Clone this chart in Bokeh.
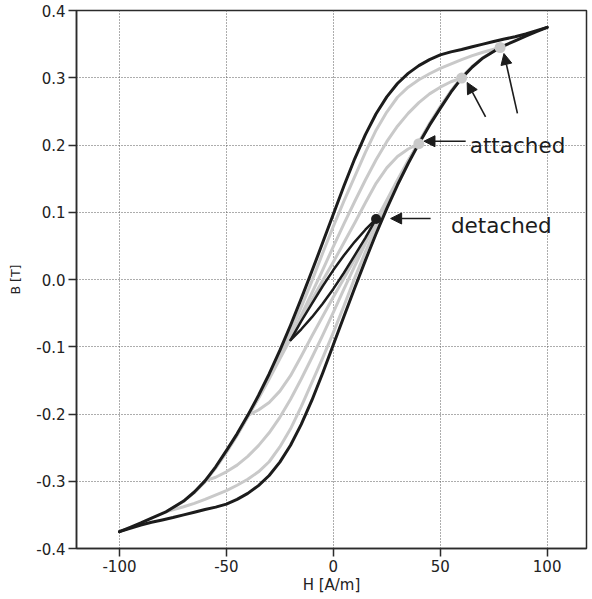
from bokeh.plotting import figure
from bokeh.models import Range1d, FixedTicker, PrintfTickFormatter, Arrow, NormalHead
from bokeh.core.properties import value
from bokeh.embed import file_html
from bokeh.resources import INLINE

# ---------------- data ----------------
# major loop, ascending (lower) branch
major_asc_H = [-100, -95, -90, -85, -80, -75, -70, -65, -60, -55, -50, -45, -40, -35, -30,
               -25, -20, -15, -10, -5, 0, 5, 10, 15, 20, 25, 30, 35, 40, 45, 50, 55, 60,
               65, 70, 78, 85, 90, 95, 100]
major_asc_B = [-0.375, -0.370, -0.365, -0.361, -0.3575, -0.354, -0.350, -0.346, -0.342, -0.3385,
               -0.334, -0.327, -0.318, -0.3065, -0.2915, -0.2715, -0.2465, -0.2155, -0.1795, -0.1395,
               -0.097, -0.0545, -0.0125, 0.0285, 0.068, 0.1055, 0.1405, 0.1725, 0.202, 0.2295,
               0.2545, 0.2785, 0.2995, 0.316, 0.3295, 0.345, 0.355, 0.362, 0.3685, 0.375]
# major loop, descending (upper) branch
major_desc_H = [100, 95, 90, 85, 80, 75, 70, 65, 60, 55, 50, 45, 40, 35, 30, 25, 20, 15, 10,
                5, 0, -5, -10, -15, -20, -25, -30, -35, -40, -45, -50, -55, -60, -65, -70,
                -78, -85, -90, -95, -100]
major_desc_B = [0.375, 0.370, 0.365, 0.361, 0.3575, 0.354, 0.350, 0.346, 0.342, 0.3385,
                0.334, 0.327, 0.318, 0.3065, 0.2915, 0.2715, 0.2465, 0.2155, 0.1795, 0.1395,
                0.097, 0.0545, 0.0125, -0.0285, -0.068, -0.1055, -0.1405, -0.1725, -0.202, -0.2295,
                -0.2545, -0.2785, -0.2995, -0.316, -0.3295, -0.345, -0.355, -0.362, -0.3685, -0.375]

# attached minor loop, tip at H = 78
loop78_desc_H = [78, 70, 65, 60, 50, 45, 40, 35, 30, 25, 20, 15, 10, 5, 0, -5, -10, -15, -20,
                 -25, -30, -35, -40, -45, -50, -55, -60, -65, -70, -78]
loop78_desc_B = [0.345, 0.338, 0.333, 0.327, 0.314, 0.306, 0.297, 0.286, 0.271, 0.249, 0.222,
                 0.189, 0.153, 0.117, 0.079, 0.039, -0.002, -0.041, -0.077, -0.111, -0.144,
                 -0.175, -0.204, -0.232, -0.257, -0.280, -0.301, -0.317, -0.330, -0.345]
loop78_asc_H = [-78, -70, -65, -60, -50, -45, -40, -35, -30, -25, -20, -15, -10, -5, 0, 5, 10,
                15, 20, 25, 30, 35, 40, 45, 50, 55, 60, 65, 70, 78]
loop78_asc_B = [-0.345, -0.338, -0.333, -0.327, -0.314, -0.306, -0.297, -0.286, -0.271, -0.249,
                -0.222, -0.189, -0.153, -0.117, -0.079, -0.039, 0.002, 0.041, 0.077, 0.111,
                0.144, 0.175, 0.204, 0.232, 0.257, 0.280, 0.301, 0.317, 0.330, 0.345]

# attached minor loop, tip at H = 60
loop60_desc_H = [60, 55, 50, 45, 40, 35, 30, 25, 20, 15, 10, 5, 0, -5, -10, -15, -20, -25,
                 -30, -35, -40, -45, -50, -55, -60]
loop60_desc_B = [0.2995, 0.294, 0.286, 0.276, 0.263, 0.247, 0.228, 0.205, 0.178, 0.148, 0.116,
                 0.083, 0.049, 0.014, -0.020, -0.053, -0.085, -0.115, -0.146, -0.176, -0.204,
                 -0.231, -0.256, -0.280, -0.2995]
loop60_asc_H = [-60, -55, -50, -45, -40, -35, -30, -25, -20, -15, -10, -5, 0, 5, 10, 15, 20,
                25, 30, 35, 40, 45, 50, 55, 60]
loop60_asc_B = [-0.2995, -0.294, -0.286, -0.276, -0.263, -0.247, -0.228, -0.205, -0.178, -0.148,
                -0.116, -0.083, -0.049, -0.014, 0.020, 0.053, 0.085, 0.115, 0.146, 0.176,
                0.204, 0.231, 0.256, 0.280, 0.2995]

# attached minor loop, tip at H = 40
loop40_desc_H = [40, 35, 30, 25, 20, 15, 10, 5, 0, -5, -10, -15, -20, -25, -30, -35, -40]
loop40_desc_B = [0.202, 0.194, 0.183, 0.166, 0.143, 0.114, 0.084, 0.055, 0.026, -0.002,
                 -0.030, -0.059, -0.088, -0.118, -0.148, -0.177, -0.202]
loop40_asc_H = [-40, -35, -30, -25, -20, -15, -10, -5, 0, 5, 10, 15, 20, 25, 30, 35, 40]
loop40_asc_B = [-0.202, -0.194, -0.183, -0.166, -0.143, -0.114, -0.084, -0.055, -0.026, 0.002,
                0.030, 0.059, 0.088, 0.118, 0.148, 0.177, 0.202]

# detached minor loop, tip at H = 20
loop20_desc_H = [20, 15, 10, 5, 0, -5, -10, -15, -20]
loop20_desc_B = [0.090, 0.074, 0.056, 0.036, 0.014, -0.010, -0.036, -0.062, -0.090]
loop20_asc_H = [-20, -15, -10, -5, 0, 5, 10, 15, 20]
loop20_asc_B = [-0.090, -0.074, -0.056, -0.036, -0.014, 0.010, 0.036, 0.062, 0.090]

attached_H = [40, 60, 78]
attached_B = [0.202, 0.2995, 0.345]
detached_H = [20]
detached_B = [0.090]

x_ticks = [-100, -50, 0, 50, 100]
y_ticks = [-0.4, -0.3, -0.2, -0.1, 0.0, 0.1, 0.2, 0.3, 0.4]

# ---------------- styling ----------------
FONT = "DejaVu Sans"
BLACK = "#1c1c1c"
GRAY = "#c9c9c9"
AX = "#2b2b2b"

p = figure(width=588, height=598, x_range=Range1d(-120.1, 118.4), y_range=Range1d(-0.4, 0.4),
           output_backend="svg", toolbar_location=None,
           min_border_left=76, min_border_right=2, min_border_top=10, min_border_bottom=50,
           x_axis_label="H [A/m]", y_axis_label="B [T]")
p.background_fill_color = "white"
p.border_fill_color = "white"
p.outline_line_color = AX
p.outline_line_width = 1.5

for ax in (p.xaxis[0], p.yaxis[0]):
    ax.axis_line_color = AX
    ax.axis_line_width = 1.5
    ax.major_tick_out = 8
    ax.major_tick_in = 0
    ax.major_tick_line_width = 1.5
    ax.major_tick_line_color = AX
    ax.minor_tick_line_color = None
    ax.major_label_text_font = FONT
    ax.major_label_text_font_size = "15px"
    ax.major_label_text_color = "#222222"
    ax.major_label_standoff = 3
    ax.axis_label_text_font = FONT
    ax.axis_label_text_font_style = "normal"
    ax.axis_label_text_color = "#222222"

p.xaxis.axis_label_text_font_size = "15px"
p.xaxis.axis_label_standoff = 1
p.yaxis.axis_label_text_font_size = "12.5px"
p.yaxis.axis_label_standoff = 10

p.xaxis.ticker = FixedTicker(ticks=x_ticks)
p.yaxis.ticker = FixedTicker(ticks=y_ticks)
p.xaxis.formatter = PrintfTickFormatter(format="%d")
p.yaxis.formatter = PrintfTickFormatter(format="%.1f")
p.xgrid.ticker = FixedTicker(ticks=x_ticks)
p.ygrid.ticker = FixedTicker(ticks=y_ticks)
for g in (p.xgrid[0], p.ygrid[0]):
    g.grid_line_color = "#5a5a5a"
    g.grid_line_width = 1
    g.grid_line_dash = "1 2"

# gray attached loops
for hx, by in ((loop78_desc_H, loop78_desc_B), (loop78_asc_H, loop78_asc_B),
               (loop60_desc_H, loop60_desc_B), (loop60_asc_H, loop60_asc_B),
               (loop40_desc_H, loop40_desc_B), (loop40_asc_H, loop40_asc_B)):
    p.line(hx, by, line_color=GRAY, line_width=3, line_join="round", line_cap="round")

# major loop
p.line(major_asc_H, major_asc_B, line_color=BLACK, line_width=3, line_join="round", line_cap="round")
p.line(major_desc_H, major_desc_B, line_color=BLACK, line_width=3, line_join="round", line_cap="round")

# detached loop
p.line(loop20_desc_H, loop20_desc_B, line_color=BLACK, line_width=2.5, line_join="round", line_cap="round")
p.line(loop20_asc_H, loop20_asc_B, line_color=BLACK, line_width=2.5, line_join="round", line_cap="round")

p.scatter(attached_H, attached_B, size=11, fill_color=GRAY, line_color=None)
p.scatter(detached_H, detached_B, size=10, fill_color=BLACK, line_color=None)

def arrow(x0, y0, x1, y1):
    p.add_layout(Arrow(end=NormalHead(size=11, fill_color=BLACK, line_color=BLACK, line_width=1),
                       x_start=x0, y_start=y0, x_end=x1, y_end=y1,
                       line_color=BLACK, line_width=1.6))

arrow(61.9, 0.2056, 42.4, 0.2056)
arrow(71.2, 0.242, 62.6, 0.293)
arrow(86.1, 0.247, 79.8, 0.336)
arrow(45.5, 0.0907, 26.8, 0.0907)

p.text(x=[63.8], y=[0.1997], text=["attached"], text_font=value(FONT), text_font_size="21.5px",
       text_align="left", text_baseline="alphabetic", text_color=BLACK)
p.text(x=[55.0], y=[0.0807], text=["detached"], text_font=value(FONT), text_font_size="21.5px",
       text_align="left", text_baseline="alphabetic", text_color=BLACK)

open("out.html", "w").write(file_html(p, INLINE))
